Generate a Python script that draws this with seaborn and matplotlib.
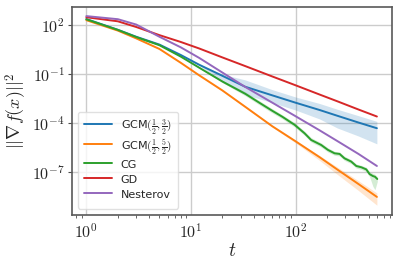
import numpy as np
import pandas as pd
import matplotlib
matplotlib.use("Agg")
import matplotlib.pyplot as plt
import seaborn as sns

# values, stored as log10 of ||grad f||^2
t = [1, 2, 3, 5, 8, 12, 20, 33, 60, 100, 170, 250, 400, 600]

gd_log = [2.5, 2.25, 1.9, 1.4, 0.98, 0.58, 0.03, -0.5, -1.14, -1.68, -2.25, -2.66, -3.17, -3.6]
nesterov_log = [2.57, 2.38, 2.05, 1.3, 0.65, 0.0, -0.9, -1.78, -2.75, -3.58, -4.45, -5.1, -5.9, -6.64]

gcm32_log = [2.39, 1.73, 1.3, 0.82, 0.18, -0.42, -1.1, -1.77, -2.3, -2.75, -3.2, -3.55, -3.97, -4.32]
gcm32_hi = [2.42, 1.76, 1.33, 0.85, 0.21, -0.38, -1.0, -1.35, -1.95, -2.4, -2.8, -3.15, -3.55, -3.9]
gcm32_lo = [2.36, 1.7, 1.27, 0.79, 0.15, -0.46, -1.5, -2.25, -2.75, -3.2, -3.75, -4.3, -4.8, -5.28]

gcm52_log = [2.32, 1.68, 1.2, 0.55, -0.3, -1.07, -2.0, -3.0, -4.2, -5.12, -6.1, -6.85, -7.75, -8.54]
gcm52_hi = [2.35, 1.71, 1.23, 0.58, -0.27, -1.04, -1.96, -2.95, -4.15, -5.07, -6.0, -6.7, -7.55, -8.3]
gcm52_lo = [2.29, 1.65, 1.17, 0.52, -0.33, -1.1, -2.04, -3.05, -4.25, -5.22, -6.3, -7.15, -8.15, -9.05]

# CG is noisy towards the end, so it gets its own finer grid
t_cg = [1, 2, 3, 5, 8, 12, 20, 33, 45, 60, 75, 98, 122, 141, 176, 204, 236, 264, 294,
        341, 381, 426, 475, 511, 550, 575, 605]
cg_log = [2.37, 1.72, 1.28, 0.78, 0.08, -0.6, -1.45, -2.2, -2.75, -3.25, -3.62, -4.11, -4.63,
          -5.04, -5.35, -5.65, -5.86, -5.9, -6.17, -6.37, -6.64, -6.72, -6.85, -7.14, -7.26,
          -7.3, -7.44]
cg_hi = [2.39, 1.74, 1.3, 0.8, 0.1, -0.57, -1.38, -2.08, -2.62, -3.12, -3.5, -3.98, -4.5,
         -4.9, -5.22, -5.52, -5.74, -5.78, -6.04, -6.25, -6.52, -6.6, -6.72, -7.0, -7.1,
         -7.15, -7.3]
cg_lo = [2.35, 1.7, 1.26, 0.76, 0.06, -0.63, -1.52, -2.32, -2.88, -3.38, -3.75, -4.24, -4.76,
         -5.17, -5.48, -5.78, -5.98, -6.03, -6.3, -6.5, -6.77, -6.85, -6.98, -7.3, -7.9,
         -8.1, -7.6]

sns.set_style("whitegrid")
plt.rcParams["mathtext.fontset"] = "cm"
plt.rcParams["font.family"] = ["DejaVu Sans"]

colors = sns.color_palette("tab10")

fig = plt.figure(figsize=(3.99, 2.66), dpi=100)
ax = fig.add_axes([0.18, 0.193, 0.802, 0.782])

series = [
    (r"GCM$(\frac{1}{2},\frac{3}{2})$", t, gcm32_log, gcm32_lo, gcm32_hi, colors[0]),
    (r"GCM$(\frac{1}{2},\frac{5}{2})$", t, gcm52_log, gcm52_lo, gcm52_hi, colors[1]),
    ("CG", t_cg, cg_log, cg_lo, cg_hi, colors[2]),
    ("GD", t, gd_log, None, None, colors[3]),
    ("Nesterov", t, nesterov_log, None, None, colors[4]),
]

for name, tt, mid, lo, hi, c in series:
    df = pd.DataFrame({"t": tt, "g": 10.0 ** np.array(mid)})
    sns.lineplot(data=df, x="t", y="g", ax=ax, color=c, lw=1.4, label=name)
    if lo is not None:
        ax.fill_between(tt, 10.0 ** np.array(lo), 10.0 ** np.array(hi), color=c, alpha=0.2, lw=0)

ax.set_xscale("log")
ax.set_yscale("log")
ax.set_yticks([1e2, 1e-1, 1e-4, 1e-7])
ax.yaxis.set_minor_locator(matplotlib.ticker.NullLocator())
ax.xaxis.set_minor_locator(matplotlib.ticker.LogLocator(base=10, subs=np.arange(2, 10), numticks=20))
pow_fmt = matplotlib.ticker.FuncFormatter(lambda v, p: r"$10^{%d}$" % round(np.log10(v)))
ax.xaxis.set_major_formatter(pow_fmt)
ax.yaxis.set_major_formatter(pow_fmt)
ax.margins(x=0.05, y=0.05)

ax.set_xlabel("$t$", fontsize=14, labelpad=0)
ax.set_ylabel(r"$||\nabla f(x)||^2$", fontsize=13, labelpad=2)
ax.tick_params(axis="both", labelsize=11.5, labelcolor="0.15", direction="out", pad=2)
ax.tick_params(axis="x", which="major", length=3.5, width=0.8, color="0.3")
ax.tick_params(axis="x", which="minor", length=2.2, width=0.6, color="0.3", bottom=True)
ax.tick_params(axis="y", which="major", length=3, width=0.8, color="0.3", left=True)

ax.grid(True, which="major", color="0.8", lw=1.0)
for s in ax.spines.values():
    s.set_color("0.35")
    s.set_linewidth(1.2)

leg = ax.legend(loc="lower left", fontsize=8, frameon=True, borderpad=0.55, handlelength=2.5,
                handleheight=1.72, labelspacing=0.0, borderaxespad=0.55)
leg.get_frame().set_edgecolor("0.85")

fig.savefig("out.png", dpi=100)
